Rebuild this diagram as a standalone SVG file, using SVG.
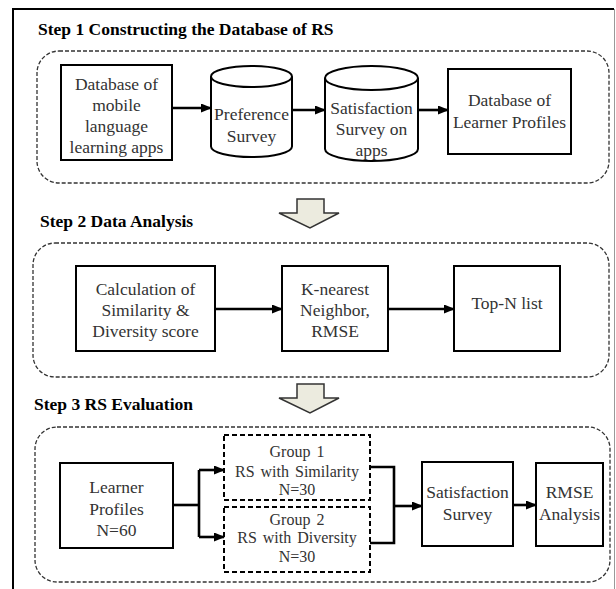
<svg xmlns="http://www.w3.org/2000/svg" width="616" height="589" viewBox="0 0 616 589">
<defs>
<marker id="ah" markerUnits="userSpaceOnUse" markerWidth="11" markerHeight="9" refX="10" refY="4.5" orient="auto">
<path d="M0,0 L11,4.5 L0,9 z" fill="#000"/>
</marker>
<style>
.title{font-family:"Liberation Serif",serif;font-weight:bold;font-size:17.5px;fill:#000}
.t{font-family:"Liberation Serif",serif;font-size:17.5px;fill:#333;text-anchor:middle}
.ts{font-family:"Liberation Serif",serif;font-size:16px;fill:#333;text-anchor:middle;word-spacing:2px}
.box{fill:#fff;stroke:#000;stroke-width:2}
.cont{fill:none;stroke:#333;stroke-width:1.3;stroke-dasharray:4 2}
.gbox{fill:#fff;stroke:#000;stroke-width:2;stroke-dasharray:5 3}
.con{fill:none;stroke:#000;stroke-width:2.6}
.blk{fill:#ecebdf;stroke:#333;stroke-width:1.5}
</style>
</defs>
<rect width="616" height="589" fill="#fff"/>
<!-- outer frame -->
<g id="frame">
<path d="M13,589 V9 H614" fill="none" stroke="#000" stroke-width="2"/>
<path d="M614.5,9 V589" fill="none" stroke="#999" stroke-width="1"/>
</g>
<!-- step titles -->
<text class="title" x="38" y="35">Step 1 Constructing the Database of RS</text>
<text class="title" x="40" y="227">Step 2 Data Analysis</text>
<text class="title" x="34" y="410">Step 3 RS Evaluation</text>
<!-- containers -->
<g id="containers">
<rect class="cont" x="37" y="51" width="572" height="132" rx="22"/>
<rect class="cont" x="33" y="243" width="576" height="134" rx="22"/>
<rect class="cont" x="35" y="427" width="575" height="155" rx="22"/>
</g>
<!-- block arrows -->
<g id="blockarrows">
<path class="blk" d="M297,199 H324 V213 H339 L310,228 L279,213 H297 Z"/>
<path class="blk" d="M297,384 H324 V398 H339 L310,413 L279,398 H297 Z"/>
</g>
<!-- Step 1 nodes -->
<g id="db-apps">
<rect class="box" x="61" y="65" width="111" height="95"/>
<text class="t" x="116.5" y="90">Database of</text>
<text class="t" x="116.5" y="111">mobile</text>
<text class="t" x="116.5" y="132">language</text>
<text class="t" x="116.5" y="153">learning apps</text>
</g>
<g id="pref-survey">
<path class="box" d="M211,76.5 V146.5 A40.5,10.5 0 0 0 292,146.5 V76.5"/>
<ellipse class="box" cx="251.5" cy="76.5" rx="40.5" ry="10.5"/>
<text class="t" x="251.5" y="120">Preference</text>
<text class="t" x="251.5" y="142">Survey</text>
</g>
<g id="sat-survey-apps">
<path class="box" d="M325,78 V149 A46.5,12 0 0 0 418,149 V78"/>
<ellipse class="box" cx="371.5" cy="78" rx="46.5" ry="12"/>
<text class="t" x="371.5" y="114">Satisfaction</text>
<text class="t" x="371.5" y="135">Survey on</text>
<text class="t" x="371.5" y="156">apps</text>
</g>
<g id="db-learner">
<rect class="box" x="448" y="69" width="123" height="85"/>
<text class="t" x="509.5" y="106">Database of</text>
<text class="t" x="509.5" y="128">Learner Profiles</text>
</g>
<!-- Step 2 nodes -->
<g id="calc">
<rect class="box" x="76" y="266" width="139" height="85"/>
<text class="t" x="145.5" y="295">Calculation of</text>
<text class="t" x="145.5" y="316">Similarity &amp;</text>
<text class="t" x="145.5" y="337">Diversity score</text>
</g>
<g id="knn">
<rect class="box" x="282" y="266" width="106" height="85"/>
<text class="t" x="335" y="295">K-nearest</text>
<text class="t" x="335" y="316">Neighbor,</text>
<text class="t" x="335" y="337">RMSE</text>
</g>
<g id="topn">
<rect class="box" x="454" y="266" width="106" height="85"/>
<text class="t" x="507" y="309">Top-N list</text>
</g>
<!-- Step 3 nodes -->
<g id="learner">
<rect class="box" x="60" y="463" width="113" height="85"/>
<text class="t" x="116.5" y="493">Learner</text>
<text class="t" x="116.5" y="514.5">Profiles</text>
<text class="t" x="116.5" y="536">N=60</text>
</g>
<g id="group1">
<rect class="gbox" x="224" y="435" width="146" height="65"/>
<text class="ts" x="297" y="457">Group 1</text>
<text class="ts" x="297" y="477">RS with Similarity</text>
<text class="ts" x="297" y="495">N=30</text>
</g>
<g id="group2">
<rect class="gbox" x="224" y="507" width="146" height="65"/>
<text class="ts" x="297" y="525">Group 2</text>
<text class="ts" x="297" y="543">RS with Diversity</text>
<text class="ts" x="297" y="562">N=30</text>
</g>
<g id="satisfaction">
<rect class="box" x="422" y="462" width="91" height="84"/>
<text class="t" x="467.5" y="498">Satisfaction</text>
<text class="t" x="467.5" y="520">Survey</text>
</g>
<g id="rmse">
<rect class="box" x="536" y="463" width="67" height="83"/>
<text class="t" x="569.5" y="498">RMSE</text>
<text class="t" x="569.5" y="520">Analysis</text>
</g>
<!-- connectors -->
<g id="connectors">
<path class="con" d="M172,108 H211" marker-end="url(#ah)"/>
<path class="con" d="M292,110 H325" marker-end="url(#ah)"/>
<path class="con" d="M418,110 H448" marker-end="url(#ah)"/>
<path class="con" d="M215,309 H282" marker-end="url(#ah)"/>
<path class="con" d="M388,309 H454" marker-end="url(#ah)"/>
<path class="con" d="M173,505 H199"/>
<path class="con" d="M199,470 V537"/>
<path class="con" d="M199,470 H224" marker-end="url(#ah)"/>
<path class="con" d="M199,537 H224" marker-end="url(#ah)"/>
<path class="con" d="M370,467 H394 V543 H370"/>
<path class="con" d="M394,506 H422" marker-end="url(#ah)"/>
<path class="con" d="M513,505 H536" marker-end="url(#ah)"/>
</g>
</svg>
